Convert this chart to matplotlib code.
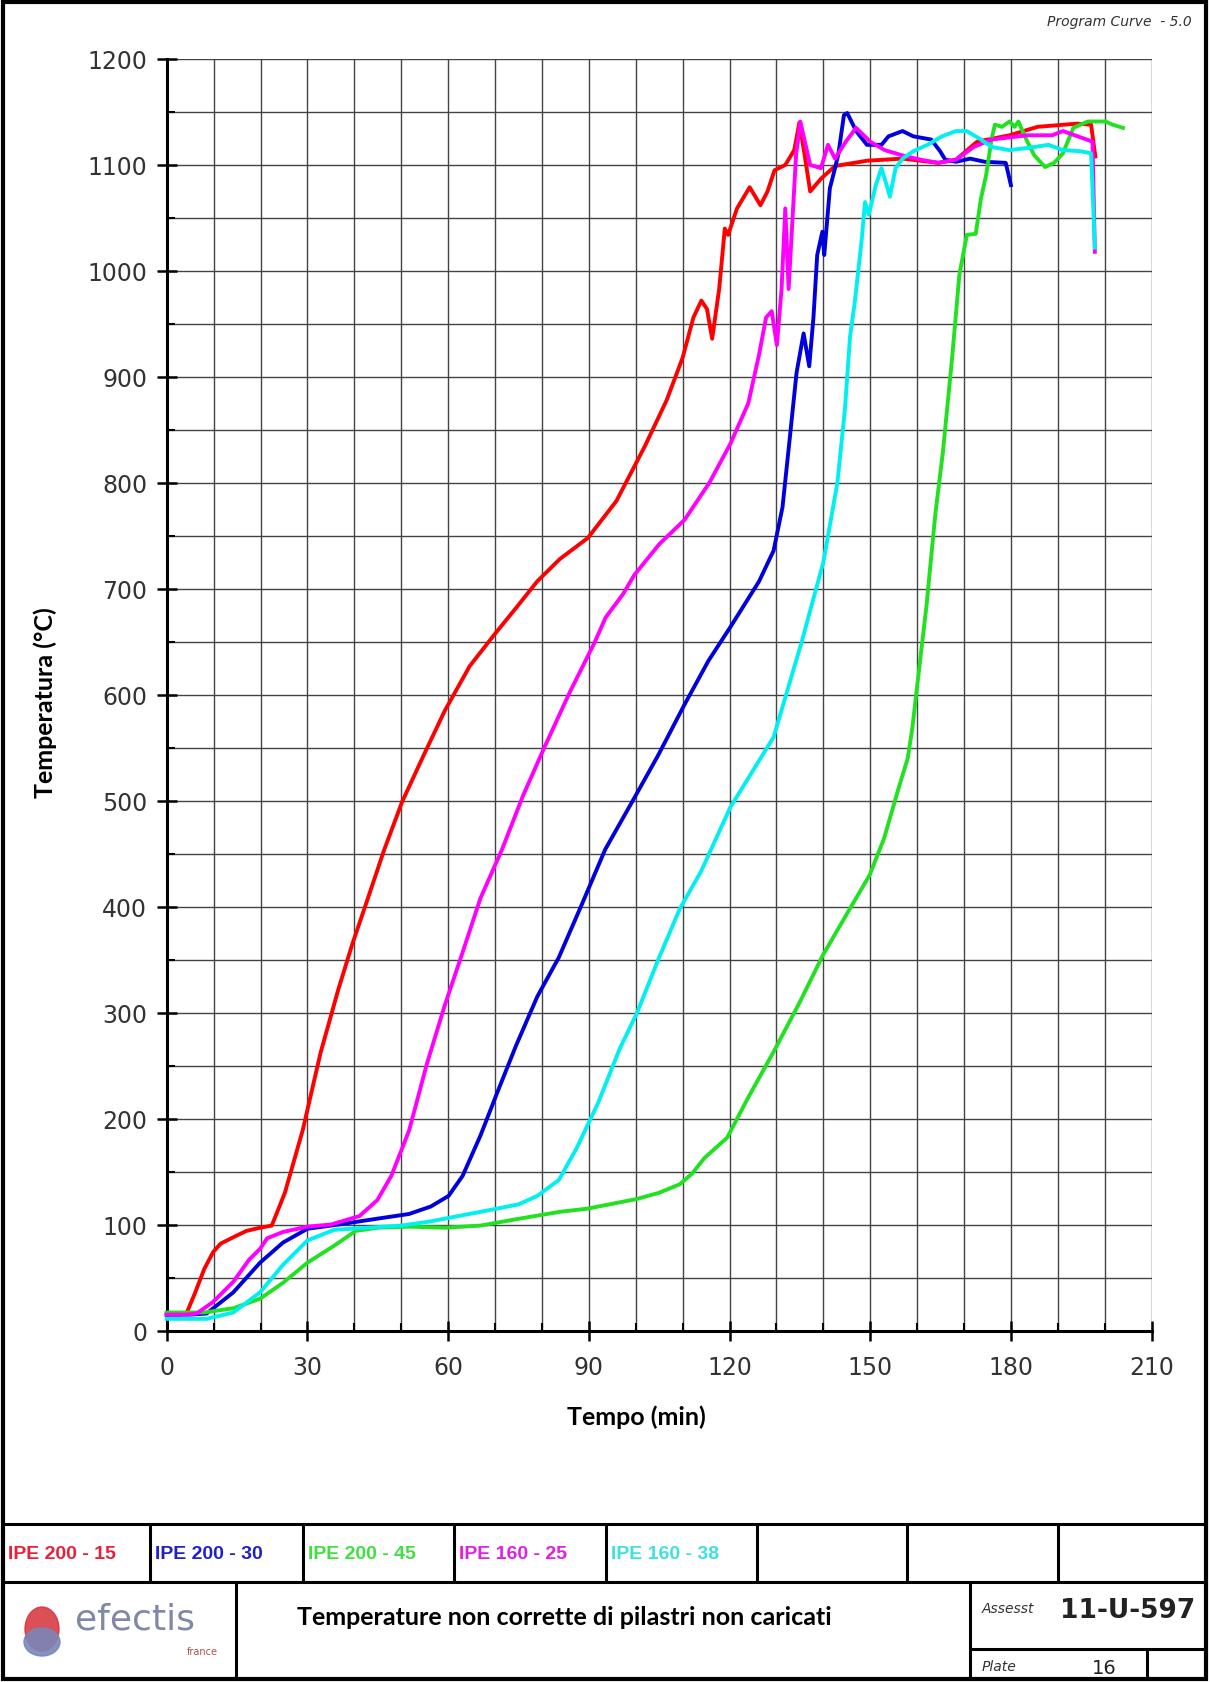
import matplotlib
matplotlib.use('Agg')
import matplotlib.pyplot as plt
from matplotlib.patches import Ellipse, Rectangle

# ---- data (time in min, temperature in degC) ----
t_red = [0, 3, 4.3, 6, 8, 9.9, 11.5, 14.2, 17, 19.9, 22.4, 25.2, 29, 32.8, 36.6, 39.6, 42.6, 46.4,
         50.2, 54.8, 59.3, 64.6, 69.9, 74.5, 79, 83.8, 89.8, 95.9, 102, 106.6, 110, 112.3, 114,
         115.2, 116.3, 117.8, 119, 119.7, 121.6, 124.3, 126.6, 128.1, 129.6, 131.9, 133.8, 134.9,
         136, 137.2, 139.5, 142.5, 149.3, 156.9, 164.5, 168.3, 172.8, 179.7, 185.7, 194.1, 197.1, 198]
T_red = [15, 15, 17, 35, 58, 74, 82, 88, 94, 97, 99, 130, 189, 262, 322, 365, 404, 454,
         499, 543, 585, 627, 657, 682, 707, 728, 748, 783, 835, 878, 918, 956, 972,
         964, 936, 983, 1040, 1034, 1059, 1079, 1062, 1075, 1095, 1100, 1114, 1140,
         1110, 1075, 1087, 1099, 1104, 1106, 1102, 1105, 1122, 1128, 1136, 1139, 1138, 1108]

t_blue = [0, 5, 8.5, 14.2, 19.9, 24.8, 30, 36.6, 44.1, 51.7, 56.3, 60.1, 63.1, 66.9, 70.7, 74.5,
          79, 83.6, 88.5, 93.5, 99.5, 104.8, 110.2, 115.5, 120.2, 126.3, 129.4, 131.3, 132.8,
          134.3, 135.8, 137, 137.9, 138.7, 139.8, 140.2, 141.4, 142.5, 143.2, 144.4, 145.1, 147,
          149.3, 152.4, 153.9, 156.9, 159.2, 163, 164.9, 166, 168.3, 171.3, 174.4, 178.9, 180]
T_blue = [15, 15, 16, 36, 64, 83, 96, 100, 105, 110, 117, 127, 146, 184, 227, 269,
          315, 352, 402, 454, 501, 543, 589, 632, 664, 707, 736, 777, 840,
          904, 941, 910, 956, 1015, 1037, 1015, 1078, 1097, 1110, 1147, 1149, 1132,
          1119, 1119, 1127, 1132, 1127, 1124, 1113, 1105, 1103, 1106, 1103, 1102, 1081]

t_green = [0, 8, 14.2, 19.9, 24.8, 30, 35.7, 40.3, 45, 51.7, 59.3, 66.9, 74.5, 83.8, 89.7, 100.1,
           105, 109.4, 112, 114.7, 119.5, 124, 129.4, 135, 140, 145, 149.9, 153, 156, 158, 159,
           160.5, 162, 163.9, 165.5, 167.4, 168.2, 169, 170.6, 172.5, 173.6, 174.7, 175.9, 176.6,
           178.1, 179.7, 180.8, 181.6, 183.5, 185, 187.3, 189.2, 191.1, 193.3, 196.4, 200.2, 201.7, 203.9]
T_green = [17, 17, 21, 30, 45, 64, 80, 94, 97, 98, 97, 99, 105, 112, 115, 124,
           130, 138, 148, 163, 182, 220, 263, 310, 355, 393, 430, 465, 511, 540, 569,
           627, 684, 771, 829, 915, 955, 996, 1034, 1035, 1068, 1090, 1125, 1138,
           1136, 1141, 1136, 1141, 1122, 1109, 1098, 1102, 1111, 1135, 1141, 1141, 1138, 1135]

t_mag = [0, 4, 6.4, 9.9, 14.2, 17.6, 19.9, 21.4, 24.8, 30, 35, 41.1, 44.9, 47.9, 51.7, 55.5, 59.3,
         63.1, 66.9, 71.5, 76, 80.6, 85.9, 91.2, 93.6, 97.3, 99.7, 105, 110.4, 115.7, 120.2, 124,
         126.3, 127.8, 129, 130.1, 131.1, 131.9, 132.6, 134.2, 135.1, 137.2, 139.5, 141, 142.5,
         144.8, 147, 150, 153.1, 156.9, 160.7, 164.5, 168.3, 172.1, 175.9, 183.5, 188.8, 191.1,
         197.4, 197.9]
T_mag = [15, 15, 16, 27, 46, 67, 77, 87, 93, 98, 100, 108, 123, 146, 189, 252, 307,
         357, 408, 454, 505, 551, 602, 649, 673, 695, 713, 742, 765, 800, 837, 875,
         921, 956, 962, 930, 983, 1059, 983, 1110, 1141, 1100, 1097, 1119, 1106,
         1122, 1135, 1122, 1114, 1109, 1105, 1102, 1105, 1117, 1124, 1128, 1128, 1132,
         1122, 1018]

t_cyan = [0, 8.5, 14.2, 19.9, 24.8, 30, 35.7, 42.8, 50, 56.3, 66.9, 75, 79, 83.6, 87.4, 92, 96.5,
          100.3, 104.8, 109.4, 113.9, 120.2, 129.4, 135.4, 140, 143, 144.6, 145.7, 146.7, 148.2,
          148.9, 149.7, 151.2, 152.4, 153.5, 154.2, 155.4, 156.9, 159.2, 162.2, 165.3, 168.3,
          170.6, 173.6, 175.9, 179.7, 183.5, 188, 191.1, 194.8, 197.1, 197.9]
T_cyan = [11, 11, 17, 36, 62, 85, 95, 97, 99, 103, 112, 119, 127, 142, 172, 215, 265,
          300, 350, 398, 433, 494, 560, 650, 725, 800, 869, 938, 970, 1030,
          1065, 1053, 1081, 1097, 1081, 1070, 1097, 1106, 1113, 1119, 1127, 1132,
          1132, 1124, 1117, 1114, 1116, 1119, 1114, 1113, 1111, 1022]

series_names = ['IPE 200 - 15', 'IPE 200 - 30', 'IPE 200 - 45', 'IPE 160 - 25', 'IPE 160 - 38']
series_colors = ['#ff0000', '#0000dd', '#22e022', '#ff00ff', '#00f0f0']
label_colors = ['#e8203c', '#2020c8', '#40e040', '#e020e0', '#40e0e0']

x_ticks = list(range(0, 211, 30))
y_ticks = list(range(0, 1201, 100))

W, H = 1210, 1683
fig = plt.figure(figsize=(W / 100, H / 100), dpi=100)

# page frame / title block drawn in pixel coords
bg = fig.add_axes([0, 0, 1, 1])
bg.set_xlim(0, W)
bg.set_ylim(H, 0)
bg.axis('off')

def seg(x0, y0, x1, y1, lw=2.2):
    bg.plot([x0, x1], [y0, y1], color='black', lw=lw, solid_capstyle='butt')

bg.add_patch(Rectangle((3, 3), 1203, 1677, fill=False, lw=3, ec='black'))
seg(3, 1525, 1206, 1525)
seg(3, 1583, 1206, 1583)
for xd in [150, 303, 454, 606, 757, 907, 1058]:
    seg(xd, 1525, xd, 1583)
seg(236, 1583, 236, 1680)
seg(970, 1583, 970, 1680)
seg(970, 1650, 1206, 1650)
seg(1147, 1650, 1147, 1680)

cells_left = [3, 150, 303, 454, 606]
for name, col, x0 in zip(series_names, label_colors, cells_left):
    bg.text(x0 + 5, 1555, name, color=col, fontsize=14, fontweight='bold',
            family='Liberation Sans', va='center', ha='left')

bg.text(1192, 22, 'Program Curve  - 5.0', fontsize=10, style='italic',
        color='#333333', ha='right', va='center')

# logo
bg.add_patch(Ellipse((42, 1630), 34, 44, color='#d8303a', alpha=0.85))
bg.add_patch(Ellipse((42, 1643), 36, 28, color='#7a86b8', alpha=0.9))
bg.text(75, 1620, 'efectis', fontsize=26, color='#8088a6', va='center', ha='left',
        family='DejaVu Sans')
bg.text(218, 1652, 'france', fontsize=7, color='#b05050', va='center', ha='right')

bg.text(564, 1618, 'Temperature non corrette di pilastri non caricati', fontsize=18,
        fontweight='bold', family='Lato', ha='center', va='center')
bg.text(982, 1609, 'Assesst', fontsize=10, style='italic', color='#333333', va='center')
bg.text(1195, 1611, '11-U-597', fontsize=19, fontweight='bold', color='#222222',
        ha='right', va='center', family='DejaVu Sans')
bg.text(982, 1667, 'Plate', fontsize=10, style='italic', color='#333333', va='center')
bg.text(1104, 1669, '16', fontsize=14, color='#222222', ha='center', va='center')

# main chart
ax_w = 1151.6 - 166.7
ax = fig.add_axes([166.7 / W, (H - 1331.5) / H, ax_w / W, (1331.5 - 60) / H])
ax.set_xlim(0, 210)
ax.set_ylim(0, 1200)

ax.set_xticks(x_ticks)
ax.set_xticks(range(0, 211, 10), minor=True)
ax.set_yticks(y_ticks)
ax.set_yticks(range(0, 1201, 50), minor=True)
ax.grid(which='both', color='#444444', lw=1.0)
ax.set_axisbelow(True)
ax.tick_params(which='major', direction='inout', length=14, width=1.8,
               labelsize=17, labelcolor='#333333', pad=7)
ax.tick_params(which='minor', direction='in', length=6, width=1.5)
ax.tick_params(axis='x', which='major', pad=11)
for s in ['top', 'right']:
    ax.spines[s].set_visible(False)
for s in ['left', 'bottom']:
    ax.spines[s].set_linewidth(2.2)

curves = [(t_red, T_red), (t_blue, T_blue), (t_green, T_green), (t_mag, T_mag), (t_cyan, T_cyan)]
for (tx, ty), col in zip(curves, series_colors):
    ax.plot(tx, ty, color=col, lw=2.8, solid_joinstyle='round', zorder=3, clip_on=False)

ax.set_xlabel('Tempo (min)', fontsize=18, fontweight='bold', family='Lato')
ax.xaxis.set_label_coords((636 - 166.7) / ax_w, -(1417 - 1331.5) / (1331.5 - 60), transform=ax.transAxes)
ax.set_ylabel('Temperatura (°C)', fontsize=18, fontweight='bold', family='Lato')
ax.yaxis.set_label_coords(-(166.7 - 45) / ax_w, (1331.5 - 703) / (1331.5 - 60), transform=ax.transAxes)
ax.xaxis.label.set_va('center')
ax.yaxis.label.set_va('center')

fig.savefig('out.png', dpi=100)
